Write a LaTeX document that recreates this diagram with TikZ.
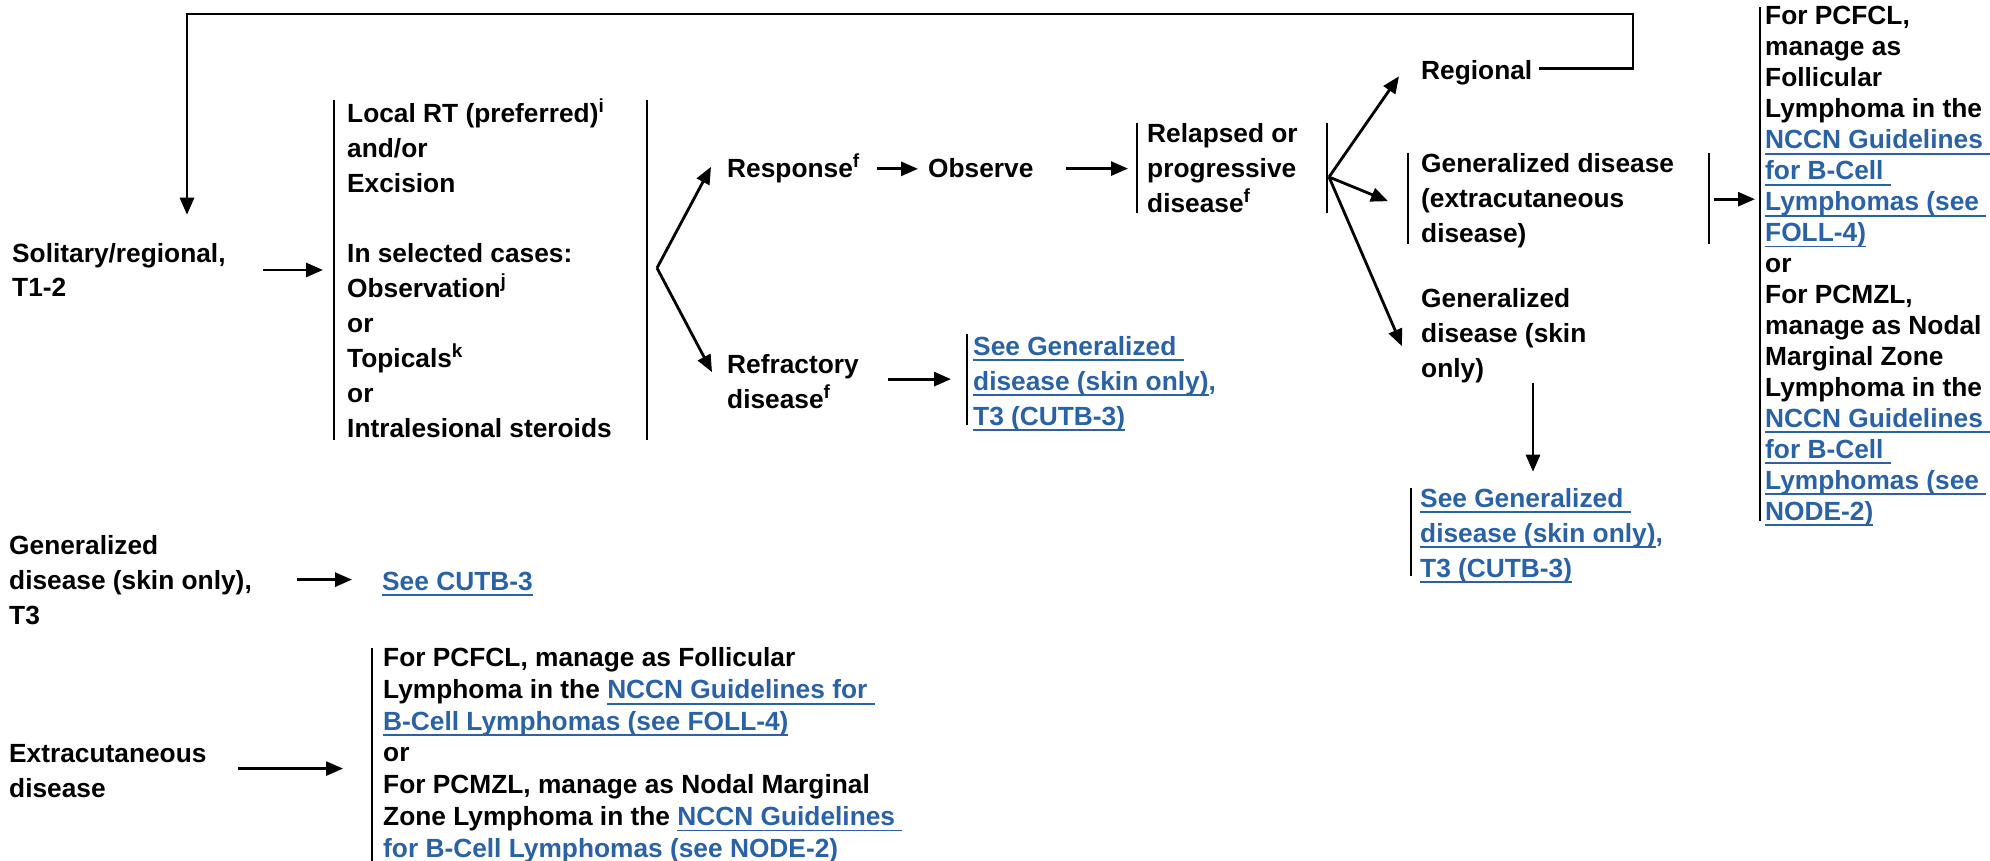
\documentclass[tikz,border=0pt]{standalone}
\usepackage{fontspec}
\setmainfont{Liberation Sans}
\usetikzlibrary{arrows.meta}
\definecolor{linkblue}{HTML}{2A62A8}
\newsavebox{\lnkbox}
\newcommand{\lnk}[1]{{\color{linkblue}\sbox{\lnkbox}{#1}\rlap{\rule[-6pt]{\wd\lnkbox}{1.8pt}}\usebox{\lnkbox}}}
\newcommand{\fnote}[1]{\raisebox{10pt}{\fontsize{19}{19}\selectfont #1}}
\tikzset{
	txt/.style={anchor=base west, inner sep=0pt, align=left, font=\fontsize{26.3}{35}\selectfont\bfseries},
	tighttxt/.style={txt, font=\fontsize{26.3}{30.95}\selectfont\bfseries},
	bar/.style={line width=2.8pt},
	arr/.style={line width=2.8pt, -{Triangle[length=17pt,width=14pt]}},
}
\begin{document}
\begin{tikzpicture}[x=1pt, y=-1pt]
	\useasboundingbox (0,0) rectangle (1990,861) ;

	\node[txt] (sol) at (12,297) {Solitary/regional,\\T1-2} ;
	\node[txt] (trt) at (347,437) {Local RT (preferred)\fnote{i}\\and/or\\Excision\\\mbox{}\\In selected cases:\\Observation\fnote{j}\\or\\Topicals\fnote{k}\\or\\Intralesional steroids} ;
	\node[txt] (resp) at (727,178) {Response\fnote{f}} ;
	\node[txt] (obs) at (928,178) {Observe} ;
	\node[txt] (refr) at (727,408) {Refractory\\disease\fnote{f}} ;
	\node[txt] (seegen) at (973,425) {\lnk{See Generalized\ }\\\lnk{disease (skin only)}{\color{linkblue},}\\\lnk{T3 (CUTB-3)}} ;
	\node[txt] (relap) at (1147,213) {Relapsed or\\progressive\\disease\fnote{f}} ;
	\node[txt] (regional) at (1421,80) {Regional} ;
	\node[txt] (genext) at (1421,243) {Generalized disease\\(extracutaneous\\disease)} ;
	\node[txt] (genskin) at (1421,377) {Generalized\\disease (skin\\only)} ;
	\node[txt] (seegentwo) at (1420,577) {\lnk{See Generalized\ }\\\lnk{disease (skin only)}{\color{linkblue},}\\\lnk{T3 (CUTB-3)}} ;
	\node[tighttxt] (manage) at (1765,520) {For PCFCL,\\manage as\\Follicular\\Lymphoma in the\\\lnk{NCCN Guidelines\ }\\\lnk{for B-Cell\ }\\\lnk{Lymphomas (see\ }\\\lnk{FOLL-4)}\\or\\For PCMZL,\\manage as Nodal\\Marginal Zone\\Lymphoma in the\\\lnk{NCCN Guidelines\ }\\\lnk{for B-Cell\ }\\\lnk{Lymphomas (see\ }\\\lnk{NODE-2)}} ;
	\node[txt] (genthree) at (9,624) {Generalized\\disease (skin only),\\T3} ;
	\node[txt] (cutb) at (382,590) {\lnk{See CUTB-3}} ;
	\node[txt] (extra) at (9,797) {Extracutaneous\\disease} ;
	\node[tighttxt, font=\fontsize{26.3}{31.7}\selectfont\bfseries] (managetwo) at (383,857) {For PCFCL, manage as Follicular\\Lymphoma in the \lnk{NCCN Guidelines for\ }\\\lnk{B-Cell Lymphomas (see FOLL-4)}\\or\\For PCMZL, manage as Nodal Marginal\\Zone Lymphoma in the \lnk{NCCN Guidelines\ }\\\lnk{for B-Cell Lymphomas (see NODE-2)}} ;

	\coordinate (forka) at (657,268) ;
	\coordinate (forkb) at (1329,177) ;

	\draw[bar] (334,100) -- (334,440) (647,100) -- (647,440) ;
	\draw[bar] (1137,123) -- (1137,213) (1327,123) -- (1327,213) ;
	\draw[bar] (967,334) -- (967,425) ;
	\draw[bar] (1408,153) -- (1408,244) (1709,153) -- (1709,244) ;
	\draw[bar] (1411,488) -- (1411,576) ;
	\draw[bar] (1760,7) -- (1760,521) ;
	\draw[bar] (372,648) -- (372,861) ;

	\draw[arr] ([xshift=7pt,yshift=5pt]regional.east) -| (1633,14) -| ([xshift=175pt,yshift=28pt]sol.north west) ;
	\draw[arr] ([xshift=251pt]sol.west) -- ([xshift=-24pt]trt.west |- sol.west) ;
	\draw[arr] (forka) -- ([xshift=-16pt,yshift=2pt]resp.west) ;
	\draw[arr] (forka) -- ([xshift=-15pt,yshift=9pt]refr.west) ;
	\draw[arr] ([xshift=150pt]resp.west) -- ([xshift=-10pt]obs.west |- resp.west) ;
	\draw[arr] ([xshift=138pt]obs.west) -- ([xshift=-19pt]relap.west |- obs.west) ;
	\draw[arr] ([xshift=161pt,yshift=2pt]refr.west) -- ([xshift=-22pt,yshift=2pt]seegen.west |- refr.west) ;
	\draw[arr] (forkb) -- ([xshift=-22pt,yshift=-3pt]regional.west) ;
	\draw[arr] (forkb) -- ([xshift=-33pt]genext.west) ;
	\draw[arr] (forkb) -- ([xshift=-19pt,yshift=-11pt]genskin.west) ;
	\draw[arr] ([xshift=293pt,yshift=2pt]genext.west) -- ([xshift=-10pt,yshift=2pt]manage.west |- genext.west) ;
	\draw[arr] ([xshift=112pt]genskin.south west) -- ([xshift=113pt,yshift=16pt]seegentwo.north west) ;
	\draw[arr] ([xshift=288pt]genthree.west) -- ([xshift=-30pt]cutb.west |- genthree.west) ;
	\draw[arr] ([xshift=229pt,yshift=2pt]extra.west) -- ([xshift=-40pt,yshift=2pt]managetwo.west |- extra.west) ;
\end{tikzpicture}
\end{document}
